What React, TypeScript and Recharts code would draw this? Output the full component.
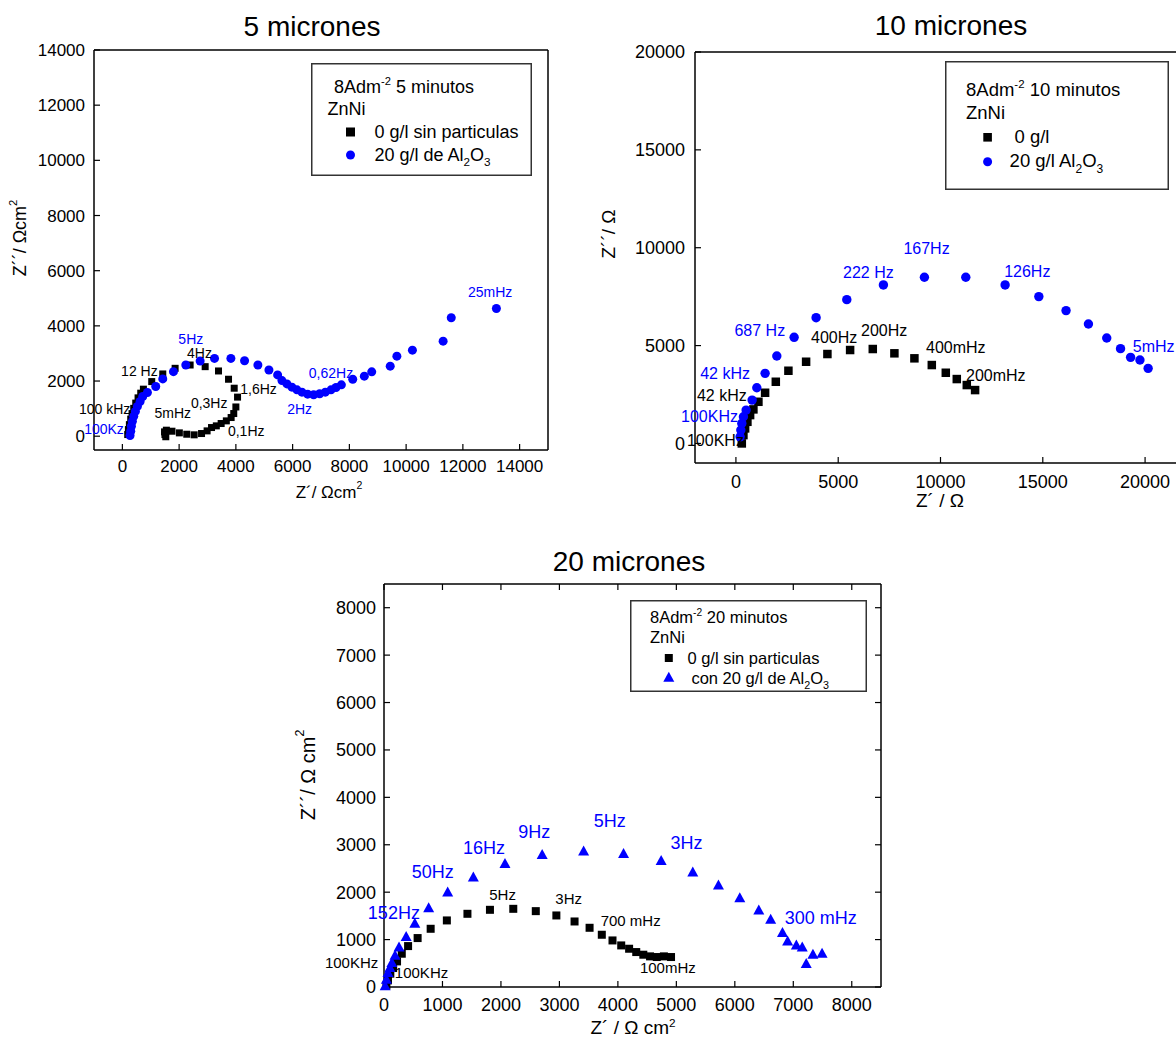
import React from 'react';
import { ScatterChart, Scatter, XAxis, YAxis, ReferenceDot } from 'recharts';

type Pt = { x: number; y: number };
type Tag = { x: number; y: number; t: string };

const FONT = "'Liberation Sans', Arial, Helvetica, sans-serif";
const BLUE = '#0000ff';
const BLACK = '#000000';

const p = (x: number, y: number): Pt => ({ x, y });
const tag = (x: number, y: number, t: string): Tag => ({ x, y, t });

// ---------- 5 micrones (8 A/dm2, 5 minutos) ----------
const sinParticulas5: Pt[] = [
  p(188, 60), p(212, 240), p(247, 420), p(294, 620), p(341, 820), p(400, 1010), p(471, 1200),
  p(553, 1390), p(647, 1560), p(741, 1705), p(1035, 1980), p(1424, 2257), p(1859, 2461),
  p(2388, 2581), p(2918, 2521), p(3388, 2365), p(3741, 2065), p(3941, 1740), p(4059, 1417),
  p(4000, 1060), p(3925, 822), p(3833, 677), p(3664, 556), p(3481, 460), p(3311, 375),
  p(3142, 314), p(2986, 193), p(2790, 97), p(2530, 50), p(2269, 72), p(2008, 121),
  p(1747, 181), p(1551, 218), p(1486, 157), p(1500, 60), p(1530, -20),
];
const conAl2O3_5: Pt[] = [
  p(271, 24), p(294, 180), p(318, 360), p(353, 540), p(400, 720), p(459, 900), p(529, 1080),
  p(624, 1260), p(718, 1440), p(882, 1584), p(1176, 1800), p(1424, 2077), p(1800, 2341),
  p(2235, 2581), p(2741, 2725), p(3247, 2821), p(3824, 2821), p(4306, 2737), p(4776, 2581),
  p(5165, 2401), p(5471, 2221), p(5624, 2017), p(5800, 1897), p(5976, 1777), p(6153, 1681),
  p(6329, 1597), p(6529, 1525), p(6741, 1501), p(6953, 1537), p(7153, 1597), p(7353, 1681),
  p(7529, 1765), p(7718, 1861), p(8118, 2065), p(8527, 2177), p(8788, 2334), p(9440, 2539),
  p(9674, 2902), p(10222, 3120), p(11304, 3446), p(11590, 4293), p(13181, 4631),
];
const etiquetasNegro5: Tag[] = [
  tag(-624, 984, '100 kHz'), tag(600, 2377, '12 Hz'), tag(2718, 3001, '4Hz'),
  tag(4800, 1705, '1,6Hz'), tag(3059, 1200, '0,3Hz'), tag(1776, 840, '5mHz'), tag(4365, 204, '0,1Hz'),
];
const etiquetasAzul5: Tag[] = [
  tag(-647, 264, '100Kz'), tag(2412, 3505, '5Hz'), tag(7353, 2305, '0,62Hz'),
  tag(6247, 996, '2Hz'), tag(12960, 5211, '25mHz'),
];
const ticksX5 = [0, 2000, 4000, 6000, 8000, 10000, 12000, 14000];
const ticksY5 = [0, 2000, 4000, 6000, 8000, 10000, 12000, 14000];

// ---------- 10 micrones (8 A/dm2, 10 minutos) ----------
const sinParticulas10: Pt[] = [
  p(288, 0), p(367, 424), p(450, 767), p(562, 1105), p(694, 1448), p(855, 1739), p(1100, 2128),
  p(1427, 2589), p(1950, 3151), p(2566, 3714), p(3431, 4174), p(4472, 4568), p(5582, 4773),
  p(6690, 4824), p(7747, 4604), p(8725, 4348), p(9575, 4005), p(10259, 3611), p(10796, 3289),
  p(11285, 2982), p(11691, 2726),
];
const conAl2O3_10: Pt[] = [
  p(205, 338), p(240, 680), p(288, 1023), p(367, 1361), p(499, 1703), p(792, 2215),
  p(1021, 2844), p(1427, 3581), p(1999, 4466), p(2845, 5422), p(3920, 6425), p(5420, 7346),
  p(7209, 8098), p(9213, 8492), p(11236, 8492), p(13158, 8098), p(14806, 7502), p(16137, 6786),
  p(17231, 6104), p(18125, 5388), p(18800, 4842), p(19292, 4399), p(19748, 4263), p(20149, 3836),
];
const etiquetasNegro10: Tag[] = [
  tag(-1002, 169, '100KHz'), tag(-689, 2471, '42 kHz'), tag(4800, 5422, '400Hz'),
  tag(7244, 5795, '200Hz'), tag(10748, 4890, '400mHz'), tag(12703, 3494, '200mHz'),
];
const etiquetasAzul10: Tag[] = [
  tag(-1290, 1361, '100KHz'), tag(-528, 3581, '42 kHz'), tag(1168, 5795, '687 Hz'),
  tag(6476, 8727, '222 Hz'), tag(9316, 9974, '167Hz'), tag(14243, 8778, '126Hz'), tag(20420, 4977, '5mHz'),
];
const ticksX10 = [0, 5000, 10000, 15000, 20000];
const ticksY10 = [0, 5000, 10000, 15000, 20000];

// ---------- 20 micrones (8 A/dm2, 20 minutos) ----------
const sinParticulas20: Pt[] = [
  p(41, 35), p(68, 140), p(108, 281), p(156, 400), p(223, 540), p(304, 702), p(412, 863),
  p(575, 1032), p(798, 1228), p(1075, 1404), p(1427, 1544), p(1812, 1628), p(2211, 1649),
  p(2596, 1600), p(2948, 1509), p(3259, 1382), p(3516, 1249), p(3725, 1102), p(3908, 982),
  p(4057, 877), p(4192, 807), p(4314, 737), p(4435, 681), p(4550, 646), p(4665, 632),
  p(4787, 646), p(4909, 632),
];
const conAl2O3_20: Pt[] = [
  p(20, 35), p(41, 175), p(68, 316), p(101, 421), p(135, 526), p(189, 681), p(257, 856),
  p(379, 1074), p(527, 1354), p(764, 1684), p(1089, 2014), p(1528, 2330), p(2069, 2618),
  p(2705, 2807), p(3414, 2877), p(4097, 2828), p(4740, 2681), p(5281, 2435), p(5720, 2161),
  p(6085, 1895), p(6410, 1635), p(6613, 1439), p(6815, 1158), p(6903, 982), p(7052, 898),
  p(7153, 856), p(7221, 505), p(7336, 702), p(7492, 723),
];
const etiquetasNegro20: Tag[] = [
  tag(-554, 519, '100KHz'), tag(642, 309, '100KHz'), tag(2028, 1951, '5Hz'),
  tag(3158, 1860, '3Hz'), tag(4219, 1404, '700 mHz'), tag(4855, 400, '100mHz'),
];
const etiquetasAzul20: Tag[] = [
  tag(169, 1579, '152Hz'), tag(832, 2435, '50Hz'), tag(1711, 2933, '16Hz'), tag(2569, 3277, '9Hz'),
  tag(3861, 3509, '5Hz'), tag(5172, 3039, '3Hz'), tag(7471, 1474, '300 mHz'),
];
const ticks20 = [0, 1000, 2000, 3000, 4000, 5000, 6000, 7000, 8000];

// ---------- markers ----------
const square = (s: number, color: string) => (q: any) => (
  <rect x={q.cx - s / 2} y={q.cy - s / 2} width={s} height={s} fill={color} />
);
const dot = (r: number, color: string) => (q: any) => <circle cx={q.cx} cy={q.cy} r={r} fill={color} />;
const triangle = (w: number, h: number, color: string) => (q: any) => (
  <polygon
    points={`${q.cx},${q.cy - h / 2} ${q.cx - w / 2},${q.cy + h / 2} ${q.cx + w / 2},${q.cy + h / 2}`}
    fill={color}
  />
);
const nothing = () => <g />;

const AxisTitle = ({ cx, cy, size, main, sup, vertical, rise = 0.4 }: any) => (
  <text
    x={cx}
    y={cy}
    textAnchor="middle"
    dominantBaseline="central"
    fontSize={size}
    fill="#000"
    transform={vertical ? `rotate(-90 ${cx} ${cy})` : undefined}
  >
    {main}
    {sup ? (
      <tspan dy={-size * rise} fontSize={size * 0.62}>
        {sup}
      </tspan>
    ) : null}
  </text>
);

type TagSet = { data: Tag[]; color: string; size: number };
type Series = { data: Pt[]; shape: (q: any) => React.ReactElement };

interface PanelProps {
  left: number;
  top: number;
  w: number;
  h: number;
  margin: { top: number; right: number; bottom: number; left: number };
  xDomain: [number, number];
  yDomain: [number, number];
  xTicks: number[];
  yTicks: number[];
  fontSize: number;
  xGap: number;
  yGap: number;
  mirrorTicks: boolean;
  series: Series[];
  tags: TagSet[];
  xTitle: React.ReactElement;
  yTitle: React.ReactElement;
}

const Panel: React.FC<PanelProps> = (props) => {
  const axisLine = { stroke: '#000', strokeWidth: 1.5 };
  const tickLine = { stroke: '#000', strokeWidth: 1.2 };
  const tick = { fill: '#000', fontSize: props.fontSize };
  // the mirror axes take 1px, so the margins are one pixel smaller
  const margin = {
    ...props.margin,
    top: props.margin.top - 1,
    right: props.margin.right - 1,
  };
  return (
    <div style={{ position: 'absolute', left: props.left, top: props.top }}>
      <ScatterChart width={props.w} height={props.h} margin={margin}>
        <XAxis
          type="number"
          dataKey="x"
          domain={props.xDomain}
          ticks={props.xTicks}
          interval={0}
          height={40}
          tickSize={-6}
          tickMargin={props.xGap + 6}
          axisLine={axisLine}
          tickLine={tickLine}
          tick={tick}
          label={props.xTitle}
        />
        <YAxis
          type="number"
          dataKey="y"
          domain={props.yDomain}
          ticks={props.yTicks}
          interval={0}
          width={60}
          tickSize={-6}
          tickMargin={props.yGap + 6}
          axisLine={axisLine}
          tickLine={tickLine}
          tick={tick}
          label={props.yTitle}
        />
        <XAxis
          xAxisId="top"
          orientation="top"
          type="number"
          dataKey="x"
          domain={props.xDomain}
          ticks={props.xTicks}
          interval={0}
          height={1}
          tickSize={-6}
          tick={nothing}
          tickLine={props.mirrorTicks ? tickLine : false}
          axisLine={axisLine}
        />
        <YAxis
          yAxisId="right"
          orientation="right"
          type="number"
          dataKey="y"
          domain={props.yDomain}
          ticks={props.yTicks}
          interval={0}
          width={1}
          tickSize={-6}
          tick={nothing}
          tickLine={props.mirrorTicks ? tickLine : false}
          axisLine={axisLine}
        />
        {props.series.map((s, i) => (
          <Scatter key={i} data={s.data} shape={s.shape} isAnimationActive={false} />
        ))}
        <Scatter
          xAxisId="top"
          yAxisId="right"
          data={props.series[0].data}
          shape={nothing}
          isAnimationActive={false}
        />
        {props.tags.map((set, i) =>
          set.data.map((t, j) => (
            <ReferenceDot
              key={`${i}-${j}`}
              x={t.x}
              y={t.y}
              r={0}
              fill="none"
              stroke="none"
              ifOverflow="visible"
              label={{ value: t.t, position: 'center', fill: set.color, fontSize: set.size }}
            />
          ))
        )}
      </ScatterChart>
    </div>
  );
};

const Title = ({ cx, cy, text }: { cx: number; cy: number; text: string }) => (
  <div
    style={{
      position: 'absolute',
      left: cx,
      top: cy,
      transform: 'translate(-50%, -50%)',
      fontSize: 28,
      lineHeight: '28px',
      whiteSpace: 'nowrap',
    }}
  >
    {text}
  </div>
);

const Al2O3 = ({ size }: { size: number }) => (
  <>
    <tspan>Al</tspan>
    <tspan dy={size * 0.3} fontSize={size * 0.65}>2</tspan>
    <tspan dy={-size * 0.3}>O</tspan>
    <tspan dy={size * 0.3} fontSize={size * 0.65}>3</tspan>
  </>
);

const LegendBox = ({ left, top, w, h, children }: any) => (
  <svg style={{ position: 'absolute', left, top, overflow: 'visible' }} width={w} height={h}>
    <rect x={0.75} y={0.75} width={w - 1.5} height={h - 1.5} fill="#fff" stroke="#333" strokeWidth={1.5} />
    {children}
  </svg>
);

const Header = ({ x, y, size, minutes }: { x: number; y: number; size: number; minutes: string }) => (
  <text x={x} y={y} fontSize={size} fill="#000">
    8Adm
    <tspan dy={-size * 0.45} fontSize={size * 0.62}>-2</tspan>
    <tspan dy={size * 0.45}>{` ${minutes} minutos`}</tspan>
  </text>
);

export default function App() {
  return (
    <div
      style={{
        position: 'absolute',
        left: 0,
        top: 0,
        width: 1176,
        height: 1038,
        overflow: 'hidden',
        background: '#fff',
        fontFamily: FONT,
        color: '#000',
      }}
    >
      <Title cx={312} cy={27} text="5 micrones" />
      <Title cx={951} cy={26} text="10 micrones" />
      <Title cx={629} cy={562} text="20 micrones" />

      <Panel
        left={0}
        top={0}
        w={600}
        h={520}
        margin={{ top: 50, right: 52, bottom: 30, left: 34 }}
        xDomain={[-1000, 15000]}
        yDomain={[-500, 14000]}
        xTicks={ticksX5}
        yTicks={ticksY5}
        fontSize={17}
        xGap={10}
        yGap={9}
        mirrorTicks={false}
        series={[
          { data: sinParticulas5, shape: square(7, BLACK) },
          { data: conAl2O3_5, shape: dot(4.5, BLUE) },
        ]}
        tags={[
          { data: etiquetasNegro5, color: BLACK, size: 14 },
          { data: etiquetasAzul5, color: BLUE, size: 14 },
        ]}
        xTitle={<AxisTitle cx={329} cy={492} size={17} main="Z´/ Ωcm" sup="2" />}
        yTitle={<AxisTitle cx={20} cy={238} size={18} main="Z´´/ Ωcm" sup="2" vertical />}
      />

      <Panel
        left={590}
        top={0}
        w={620}
        h={520}
        margin={{ top: 52, right: 24, bottom: 17, left: 45 }}
        xDomain={[-2000, 22000]}
        yDomain={[-1000, 20000]}
        xTicks={ticksX10}
        yTicks={ticksY10}
        fontSize={18}
        xGap={12}
        yGap={10}
        mirrorTicks={false}
        series={[
          { data: sinParticulas10, shape: square(8.5, BLACK) },
          { data: conAl2O3_10, shape: dot(4.7, BLUE) },
        ]}
        tags={[
          { data: etiquetasNegro10, color: BLACK, size: 16 },
          { data: etiquetasAzul10, color: BLUE, size: 16 },
        ]}
        xTitle={<AxisTitle cx={350} cy={500} size={19} main="Z´ / Ω" />}
        yTitle={<AxisTitle cx={18} cy={234} size={19} main="Z´´/ Ω" vertical />}
      />

      <Panel
        left={280}
        top={540}
        w={620}
        h={498}
        margin={{ top: 44, right: 19, bottom: 11, left: 44 }}
        xDomain={[0, 8500]}
        yDomain={[0, 8500]}
        xTicks={ticks20}
        yTicks={ticks20}
        fontSize={18}
        xGap={11}
        yGap={8}
        mirrorTicks={true}
        series={[
          { data: sinParticulas20, shape: square(8, BLACK) },
          { data: conAl2O3_20, shape: triangle(11, 10, BLUE) },
        ]}
        tags={[
          { data: etiquetasNegro20, color: BLACK, size: 15 },
          { data: etiquetasAzul20, color: BLUE, size: 18 },
        ]}
        xTitle={<AxisTitle cx={353} cy={487} size={19} main="Z´ / Ω cm" sup="2" rise={0.28} />}
        yTitle={<AxisTitle cx={28} cy={235} size={20} main="Z´´/ Ω cm" sup="2" vertical />}
      />

      <LegendBox left={311} top={63} w={221} h={113}>
        <Header x={23} y={30} size={18} minutes="5" />
        <text x={16.5} y={52} fontSize={18}>ZnNi</text>
        <rect x={35} y={64.5} width={9} height={9} fill={BLACK} />
        <text x={63.4} y={75} fontSize={18}>0 g/l sin particulas</text>
        <circle cx={39.5} cy={92} r={4.5} fill={BLUE} />
        <text x={63.4} y={98} fontSize={18}>
          {'20 g/l de '}
          <Al2O3 size={18} />
        </text>
      </LegendBox>

      <LegendBox left={945} top={61} w={224} h={129}>
        <Header x={21} y={35} size={18.5} minutes="10" />
        <text x={21} y={58} fontSize={18.5}>ZnNi</text>
        <rect x={38.3} y={72} width={8.6} height={8.6} fill={BLACK} />
        <text x={69.5} y={82} fontSize={18.5}>0 g/l</text>
        <circle cx={42.6} cy={100.7} r={4.5} fill={BLUE} />
        <text x={64.6} y={106} fontSize={18.5}>
          {'20 g/l '}
          <Al2O3 size={18.5} />
        </text>
      </LegendBox>

      <LegendBox left={630} top={600} w={237} h={92}>
        <Header x={20} y={23} size={16.5} minutes="20" />
        <text x={20} y={42.7} fontSize={16.5}>ZnNi</text>
        <rect x={34.8} y={54} width={8} height={8} fill={BLACK} />
        <text x={57.4} y={64} fontSize={16.5}>0 g/l sin particulas</text>
        <polygon points="38.8,71.7 33.3,81.7 44.3,81.7" fill={BLUE} />
        <text x={61.4} y={84} fontSize={16.5}>
          {'con 20 g/l de '}
          <Al2O3 size={16.5} />
        </text>
      </LegendBox>
    </div>
  );
}
